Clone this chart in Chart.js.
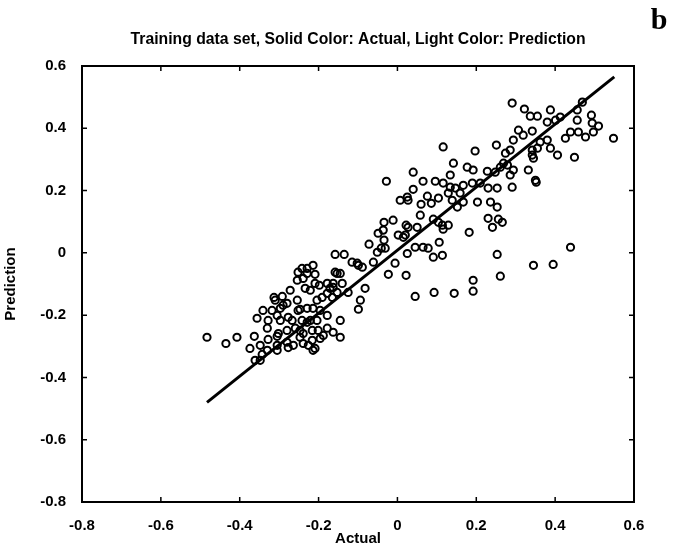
<!DOCTYPE html>
<html>
<head>
<meta charset="utf-8">
<script src="https://cdn.jsdelivr.net/npm/chart.js@4.4.0/dist/chart.umd.min.js"></script>
<style>
  html, body { margin: 0; padding: 0; background: #fff; }
  canvas { display: block; }
</style>
</head>
<body>
<canvas id="scatterChart" width="681" height="550"></canvas>
<script>
// Actual vs predicted values (training set)
const actualVals = [
    // lower-left cluster
    -0.483, -0.435, -0.407, -0.356, -0.363, -0.374, -0.348, -0.343, -0.361, -0.348,
    -0.330, -0.328, -0.341, -0.318, -0.328, -0.310, -0.313, -0.292, -0.305, -0.297,
    -0.305, -0.305, -0.280, -0.290, -0.272, -0.277, -0.267, -0.277, -0.280, -0.254,
    -0.252, -0.234, -0.254, -0.252, -0.242, -0.229, -0.214, -0.209, -0.239, -0.221,
    -0.198, -0.178, -0.163, -0.191, -0.204, -0.178, -0.165, -0.153, -0.247, -0.229,
    -0.196, -0.178, -0.204, -0.221, -0.242, -0.259, -0.239, -0.216, -0.201, -0.178,
    -0.163, -0.145, -0.145, -0.196, -0.216, -0.239, -0.247, -0.264, -0.209, -0.226,
    -0.214, -0.125, -0.171, -0.082, -0.094, -0.099,
    -0.297, -0.280, -0.209, -0.163, -0.140, -0.153, -0.229, -0.330, -0.302, -0.247,
    -0.229, -0.188, -0.214, -0.305,
    // around the origin
    -0.158, -0.135, -0.115, -0.102, -0.089, -0.099, -0.158, -0.145, -0.061, -0.072,
    -0.049, -0.051, -0.034, -0.011, -0.034, -0.041, -0.036, -0.031, 0.002, 0.015,
    0.027, 0.050, 0.022, 0.020, 0.025, -0.006, 0.045, 0.065, 0.078, 0.114,
    0.106, 0.091, -0.023, 0.022, 0.045, 0.093, 0.144, 0.192, 0.192, 0.253,
    0.261, 0.345, 0.395, 0.439, 0.182,
    // middle band
    0.116, 0.197, 0.251, -0.028, 0.040, 0.065, 0.142, 0.177, 0.134, 0.096,
    0.007, 0.027, 0.040, 0.076, 0.086, 0.060, 0.058, 0.116, 0.134, 0.147,
    0.167, 0.190, 0.210, 0.025, 0.104, 0.129, 0.139, 0.152, 0.159, 0.167,
    0.091, 0.104, 0.114, 0.129, 0.116, 0.230, 0.266, 0.256, 0.241, 0.236,
    0.253, 0.203, 0.230, 0.253, 0.248, 0.228, 0.261, 0.274, 0.269, 0.286,
    0.291, 0.352, 0.192, 0.279, 0.294, 0.286,
    // upper-right cluster
    0.291, 0.322, 0.337, 0.355, 0.388, 0.380, 0.401, 0.413, 0.456, 0.469,
    0.456, 0.492, 0.494, 0.510, 0.497, 0.477, 0.459, 0.439, 0.426, 0.548,
    0.449, 0.406, 0.388, 0.380, 0.362, 0.355, 0.342, 0.342, 0.345, 0.332,
    0.350, 0.307, 0.294, 0.319, 0.342
];
const predictedVals = [
    // lower-left cluster
    -0.271, -0.291, -0.271, -0.210, -0.268, -0.307, -0.297, -0.326, -0.345, -0.345,
    -0.313, -0.278, -0.185, -0.185, -0.217, -0.152, -0.143, -0.140, -0.201, -0.217,
    -0.268, -0.297, -0.249, -0.168, -0.120, -0.207, -0.217, -0.304, -0.287, -0.152,
    -0.185, -0.114, -0.088, -0.062, -0.050, -0.050, -0.040, -0.069, -0.082, -0.120,
    -0.104, -0.098, -0.111, -0.143, -0.152, -0.130, -0.143, -0.127, -0.181, -0.178,
    -0.185, -0.201, -0.217, -0.217, -0.217, -0.242, -0.259, -0.249, -0.249, -0.242,
    -0.255, -0.217, -0.271, -0.275, -0.281, -0.291, -0.271, -0.297, -0.307, -0.297,
    -0.178, -0.127, -0.114, -0.114, -0.152, -0.181,
    -0.178, -0.162, -0.098, -0.098, -0.098, -0.066, -0.066, -0.242, -0.259, -0.249,
    -0.223, -0.265, -0.313, -0.313,
    // around the origin
    -0.005, -0.005, -0.030, -0.033, -0.046, -0.040, -0.062, -0.066, -0.030, 0.028,
    0.063, 0.002, 0.098, 0.105, 0.041, 0.015, 0.073, 0.015, 0.057, 0.050,
    0.082, 0.082, 0.089, 0.057, -0.002, -0.033, 0.018, 0.018, 0.015, -0.008,
    0.034, -0.014, -0.069, -0.072, -0.140, -0.127, -0.130, -0.123, -0.088, -0.005,
    -0.075, -0.040, -0.037, 0.018, 0.066,
    // middle band
    0.340, 0.327, 0.346, 0.230, 0.259, 0.230, 0.288, 0.275, 0.250, 0.230,
    0.169, 0.169, 0.204, 0.182, 0.159, 0.156, 0.121, 0.224, 0.211, 0.208,
    0.217, 0.224, 0.224, 0.179, 0.176, 0.192, 0.169, 0.147, 0.192, 0.163,
    0.108, 0.098, 0.089, 0.089, 0.076, 0.111, 0.098, 0.108, 0.082, 0.163,
    0.147, 0.163, 0.208, 0.208, 0.259, 0.262, 0.275, 0.320, 0.288, 0.330,
    0.211, 0.227, 0.266, 0.282, 0.266, 0.250,
    // upper-right cluster
    0.481, 0.462, 0.439, 0.439, 0.459, 0.420, 0.426, 0.436, 0.459, 0.484,
    0.426, 0.442, 0.417, 0.407, 0.388, 0.372, 0.388, 0.388, 0.368, 0.368,
    0.307, 0.314, 0.336, 0.362, 0.356, 0.336, 0.330, 0.314, 0.304, 0.266,
    0.233, 0.394, 0.362, 0.378, 0.391
];

// fitted line end points
const lineActual = [-0.483, 0.55];
const linePredicted = [-0.48, 0.565];

const axisMin = -0.8;
const axisMax = 0.6;
const tickStep = 0.2;

const titleText = "Training data set, Solid Color: Actual, Light Color: Prediction";
const panelLetter = "b";

const tickFont = { family: "'Liberation Sans', Arial, sans-serif", size: 15, weight: "bold" };

function fmtTick(value) {
    const v = Number(value.toFixed(1));
    return v === 0 ? "0" : v.toFixed(1);
}

// box, inward ticks on all sides, title and panel letter
const framePlugin = {
    id: "frame",
    afterDraw(chart) {
        const c = chart.ctx;
        const a = chart.chartArea;
        const xs = chart.scales.x;
        const ys = chart.scales.y;
        c.save();
        c.strokeStyle = "#000";
        c.lineWidth = 2;
        c.strokeRect(a.left, a.top, a.right - a.left, a.bottom - a.top);
        c.lineWidth = 1.5;
        c.beginPath();
        xs.ticks.forEach((t) => {
            const px = xs.getPixelForValue(t.value);
            c.moveTo(px, a.bottom); c.lineTo(px, a.bottom - 5);
            c.moveTo(px, a.top); c.lineTo(px, a.top + 5);
        });
        ys.ticks.forEach((t) => {
            const py = ys.getPixelForValue(t.value);
            c.moveTo(a.left, py); c.lineTo(a.left + 5, py);
            c.moveTo(a.right, py); c.lineTo(a.right - 5, py);
        });
        c.stroke();

        c.fillStyle = "#000";
        c.textAlign = "center";
        c.textBaseline = "middle";
        // condensed title squeezed to the width it has in the figure
        c.font = "bold 16px 'Liberation Sans', Arial, sans-serif";
        const w = c.measureText(titleText).width;
        const sx = Math.min(1, 455 / w);
        c.save();
        c.translate((a.left + a.right) / 2, 40);
        c.scale(sx, 1);
        c.fillText(titleText, 0, 0);
        c.restore();
        c.font = "bold 30px 'Liberation Serif', 'DejaVu Serif', serif";
        c.fillText(panelLetter, 659, 21);
        c.restore();
    },
};

const ctx = document.getElementById("scatterChart").getContext("2d");

const chart = new Chart(ctx, {
    type: "scatter",
    data: {
        datasets: [
            {
                label: "Training",
                data: actualVals.map((x, i) => ({ x: x, y: predictedVals[i] })),
                pointStyle: "circle",
                pointRadius: 3.6,
                borderWidth: 2,
                borderColor: "#000",
                backgroundColor: "rgba(0,0,0,0)",
            },
            {
                label: "Fit",
                type: "line",
                data: lineActual.map((x, i) => ({ x: x, y: linePredicted[i] })),
                borderColor: "#000",
                borderWidth: 3,
                pointRadius: 0,
                fill: false,
                tension: 0,
            },
        ],
    },
    options: {
        responsive: false,
        animation: false,
        devicePixelRatio: 1,
        layout: { padding: { top: 66, right: 47, left: 0, bottom: 0 } },
        plugins: {
            legend: { display: false },
            tooltip: { enabled: false },
            title: { display: false },
        },
        scales: {
            x: {
                type: "linear",
                min: axisMin,
                max: axisMax,
                grid: { display: false },
                border: { display: false },
                ticks: {
                    stepSize: tickStep,
                    color: "#000",
                    font: tickFont,
                    padding: 7,
                    maxRotation: 0,
                    callback: fmtTick,
                },
                title: {
                    display: true,
                    text: "Actual",
                    color: "#000",
                    font: tickFont,
                    padding: { top: 0, bottom: 2 },
                },
                afterFit(scale) { scale.height = 48; },
            },
            y: {
                type: "linear",
                min: axisMin,
                max: axisMax,
                grid: { display: false },
                border: { display: false },
                ticks: {
                    stepSize: tickStep,
                    color: "#000",
                    font: tickFont,
                    padding: 8,
                    callback: fmtTick,
                },
                title: {
                    display: true,
                    text: "Prediction",
                    color: "#000",
                    font: tickFont,
                    padding: { top: 2, bottom: 0 },
                },
                afterFit(scale) { scale.width = 82; },
            },
        },
    },
    plugins: [framePlugin],
});
</script>
</body>
</html>
